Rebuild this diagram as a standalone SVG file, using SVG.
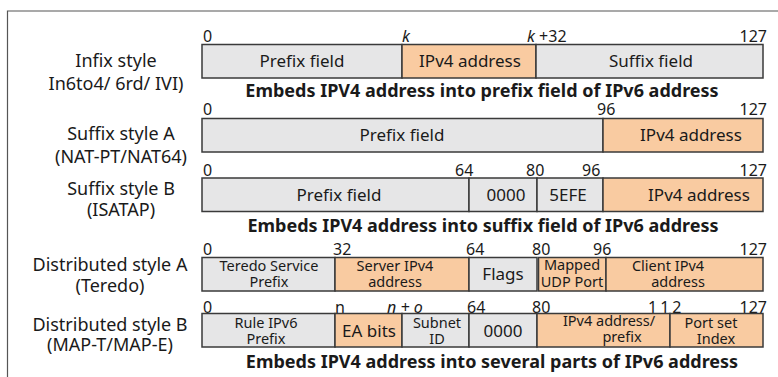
<svg xmlns="http://www.w3.org/2000/svg" width="778" height="377" viewBox="0 0 778 377">
<style>
text{font-family:"Noto Sans","Open Sans","Liberation Sans",sans-serif;fill:#1a1a1a}
.lbl{font-size:18px;text-anchor:middle}
.num{font-size:16px}
.end{text-anchor:end}
.it{font-style:italic}
.bx{font-size:17px;text-anchor:middle}
.sm{font-size:14.5px;text-anchor:middle}
.cap{font-size:18px;font-weight:bold;text-anchor:middle}
.g{fill:#e6e6e7;stroke:#3a3a3a;stroke-width:1.5}
.o{fill:#f9cba1;stroke:#3a3a3a;stroke-width:1.5}
.frame{fill:none;stroke:#555;stroke-width:1.2}
</style>
<path class="frame" d="M7.5,377 V11 H778"/>

<g id="row1">
<text class="lbl" x="116" y="67">Infix style</text>
<text class="lbl" x="116" y="90">In6to4/ 6rd/ IVI)</text>
<text class="num" x="203" y="42">0</text>
<text class="num it" x="402" y="42">k</text>
<text class="num" x="527" y="42"><tspan class="it">k</tspan> +32</text>
<text class="num end" x="767" y="42">127</text>
<rect class="g" x="202" y="44.5" width="200" height="33.5"/>
<rect class="o" x="402" y="44.5" width="134" height="33.5"/>
<rect class="g" x="536" y="44.5" width="227" height="33.5"/>
<text class="bx" x="302" y="67">Prefix field</text>
<text class="bx" x="470" y="67">IPv4 address</text>
<text class="bx" x="651" y="67">Suffix field</text>
<text class="cap" x="482" y="97">Embeds IPV4 address into prefix field of IPv6 address</text>
</g>

<g id="row2">
<text class="lbl" x="121" y="140">Suffix style A</text>
<text class="lbl" x="121" y="163">(NAT-PT/NAT64)</text>
<text class="num" x="203" y="115">0</text>
<text class="num" x="597" y="115">96</text>
<text class="num end" x="767" y="115">127</text>
<rect class="g" x="202" y="118.5" width="401" height="33.5"/>
<rect class="o" x="603" y="118.5" width="160" height="33.5"/>
<text class="bx" x="402" y="141">Prefix field</text>
<text class="bx" x="691" y="141">IPv4 address</text>
</g>

<g id="row3">
<text class="lbl" x="121" y="195">Suffix style B</text>
<text class="lbl" x="121" y="216">(ISATAP)</text>
<text class="num" x="203" y="176">0</text>
<text class="num" x="455" y="176">64</text>
<text class="num" x="526" y="176">80</text>
<text class="num" x="582" y="176">96</text>
<text class="num end" x="767" y="176">127</text>
<rect class="g" x="202" y="178" width="267" height="33.5"/>
<rect class="g" x="469" y="178" width="68" height="33.5"/>
<rect class="g" x="537" y="178" width="66" height="33.5"/>
<rect class="o" x="603" y="178" width="160" height="33.5"/>
<text class="bx" x="339" y="201">Prefix field</text>
<text class="bx" x="506" y="201">0000</text>
<text class="bx" x="568" y="201">5EFE</text>
<text class="bx" x="699" y="201">IPv4 address</text>
<text class="cap" x="483" y="232">Embeds IPV4 address into suffix field of IPv6 address</text>
</g>

<g id="row4">
<text class="lbl" x="110" y="271">Distributed style A</text>
<text class="lbl" x="110" y="292">(Teredo)</text>
<text class="num" x="203" y="255">0</text>
<text class="num" x="333" y="255">32</text>
<text class="num" x="466" y="255">64</text>
<text class="num" x="532" y="255">80</text>
<text class="num" x="593" y="255">96</text>
<text class="num end" x="767" y="255">127</text>
<rect class="g" x="202" y="257.5" width="133" height="33.5"/>
<rect class="o" x="335" y="257.5" width="134" height="33.5"/>
<rect class="g" x="469" y="257.5" width="68" height="33.5"/>
<rect class="o" x="538.5" y="257.5" width="67.5" height="33.5"/>
<rect class="o" x="606" y="257.5" width="157" height="33.5"/>
<text class="sm" x="269" y="271">Teredo Service</text>
<text class="sm" x="269" y="287">Prefix</text>
<text class="sm" x="395" y="271">Server IPv4</text>
<text class="sm" x="395" y="287">address</text>
<text class="bx" x="503" y="280">Flags</text>
<text class="sm" x="572" y="270">Mapped</text>
<text class="sm" x="572" y="287">UDP Port</text>
<text class="sm" x="668" y="271">Client IPv4</text>
<text class="sm" x="678" y="287">address</text>
</g>

<g id="row5">
<text class="lbl" x="110" y="331">Distributed style B</text>
<text class="lbl" x="110" y="351">(MAP-T/MAP-E)</text>
<text class="num" x="203" y="313">0</text>
<text class="num" x="335" y="313">n</text>
<text class="num it" x="387" y="313">n + o</text>
<text class="num" x="467" y="313">64</text>
<text class="num" x="532" y="313">80</text>
<text class="num" x="648" y="313" letter-spacing="3">112</text>
<text class="num end" x="767" y="313">127</text>
<rect class="g" x="202" y="313.5" width="133" height="33.5"/>
<rect class="o" x="335" y="313.5" width="67" height="33.5"/>
<rect class="g" x="402" y="313.5" width="67" height="33.5"/>
<rect class="g" x="469" y="313.5" width="68" height="33.5"/>
<rect class="o" x="537" y="313.5" width="133" height="33.5"/>
<rect class="o" x="670" y="313.5" width="93" height="33.5"/>
<text class="sm" x="266" y="328">Rule IPv6</text>
<text class="sm" x="266" y="344">Prefix</text>
<text class="bx" x="369" y="337">EA bits</text>
<text class="sm" x="437" y="328">Subnet</text>
<text class="sm" x="437" y="344">ID</text>
<text class="bx" x="503" y="337">0000</text>
<text class="sm" x="609" y="326">IPv4 address/</text>
<text class="sm" x="622" y="342">prefix</text>
<text class="sm" x="711" y="328">Port set</text>
<text class="sm" x="716" y="344">Index</text>
<text class="cap" x="492" y="368">Embeds IPV4 address into several parts of IPv6 address</text>
</g>
</svg>
